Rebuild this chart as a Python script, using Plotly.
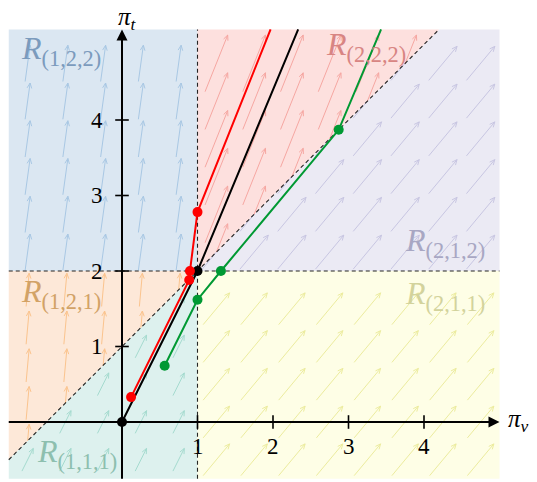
import numpy as np
import plotly.graph_objects as go

# ---- domain and region boundaries -------------------------------------
X_LO, X_HI = -1.5, 5.0
Y_LO, Y_HI = -0.75, 5.2
PV_SPLIT = 1.0        # pi_v threshold
PT_SPLIT = 2.0        # pi_t threshold
DIAG_OFFSET = 1.0     # dividing diagonal: pi_t = pi_v + 1

x_ticks = [1, 2, 3, 4]
y_ticks = [1, 2, 3, 4]

# ---- trajectories (marked vertices + slope of the final ray) -----------
black_x = [0.0, 1.0]
black_y = [0.0, 2.0]
black_ray_slope = 2.4

red_x = [0.12, 0.89, 0.90, 1.00]
red_y = [0.33, 1.88, 2.00, 2.78]
red_ray_slope = 2.5

green_x = [0.565, 1.00, 1.31, 2.87]
green_y = [0.745, 1.62, 2.00, 3.87]
green_ray_slope = 2.37

# ---- direction field per region: arrow centres and vector --------------
field_cols = [-1.25, -0.75, -0.25, 0.25, 0.75, 1.25, 1.75, 2.25, 2.75,
              3.25, 3.75, 4.25, 4.75]
rows_R122 = [2.25, 2.75, 3.25, 3.75, 4.25, 4.75]
vec_R122 = (0.066, 0.48)
rows_R121 = [-0.25, 0.25, 0.75, 1.25, 1.75]
vec_R121 = (0.04, 0.44)
rows_R111 = [-0.5, 0.0, 0.5, 1.0, 1.5]
vec_R111 = (0.15, 0.30)
rows_R211 = [-0.5, 0.0, 0.5, 1.0, 1.5]
vec_R211 = (0.35, 0.42)
rows_R212 = [2.25, 2.75, 3.25, 3.75, 4.25, 4.75]
vec_R212 = (0.375, 0.45)
rows_R222 = [2.25, 2.75, 3.25, 3.75, 4.25, 4.75]
vec_R222 = (0.30, 0.75)

# ---- styling ------------------------------------------------------------
SERIF = "'Liberation Serif', 'Times New Roman', serif"
styles = {
    "R122": dict(fill="#dbe7f2", arrow="#a9c8e4", label="#7b9bbd", name="(1,2,2)"),
    "R121": dict(fill="#fde8d8", arrow="#fbc48e", label="#d2a266", name="(1,2,1)"),
    "R111": dict(fill="#ddf1ee", arrow="#a5dbcf", label="#8dbfaf", name="(1,1,1)"),
    "R211": dict(fill="#fefee6", arrow="#ecec9e", label="#d3d39c", name="(2,1,1)"),
    "R212": dict(fill="#ebeaf4", arrow="#c8c6e2", label="#a8a7c3", name="(2,1,2)"),
    "R222": dict(fill="#fde0de", arrow="#f6a7a2", label="#d88583", name="(2,2,2)"),
}

# ---- region polygons (counter-clockwise) --------------------------------
diag_top_x = Y_HI - DIAG_OFFSET
diag_left_y = X_LO + DIAG_OFFSET
regions = {
    "R122": [(X_LO, PT_SPLIT), (PV_SPLIT, PT_SPLIT), (PV_SPLIT, Y_HI), (X_LO, Y_HI)],
    "R121": [(X_LO, diag_left_y), (PV_SPLIT, PT_SPLIT), (X_LO, PT_SPLIT)],
    "R111": [(X_LO, Y_LO), (PV_SPLIT, Y_LO), (PV_SPLIT, PT_SPLIT), (X_LO, diag_left_y)],
    "R211": [(PV_SPLIT, Y_LO), (X_HI, Y_LO), (X_HI, PT_SPLIT), (PV_SPLIT, PT_SPLIT)],
    "R212": [(PV_SPLIT, PT_SPLIT), (X_HI, PT_SPLIT), (X_HI, Y_HI), (diag_top_x, Y_HI)],
    "R222": [(PV_SPLIT, PT_SPLIT), (diag_top_x, Y_HI), (PV_SPLIT, Y_HI)],
}
fields = {
    "R122": (rows_R122, vec_R122), "R121": (rows_R121, vec_R121),
    "R111": (rows_R111, vec_R111), "R211": (rows_R211, vec_R211),
    "R212": (rows_R212, vec_R212), "R222": (rows_R222, vec_R222),
}
box = [(X_LO, Y_LO), (X_HI, Y_LO), (X_HI, Y_HI), (X_LO, Y_HI)]


def clip_segment(p0, p1, poly):
    """Cyrus-Beck clipping of segment p0->p1 against a convex CCW polygon."""
    p0, p1 = np.asarray(p0, float), np.asarray(p1, float)
    d = p1 - p0
    t0, t1 = 0.0, 1.0
    pts = [np.asarray(p, float) for p in poly]
    for i in range(len(pts)):
        a, b = pts[i], pts[(i + 1) % len(pts)]
        e = b - a
        nrm = np.array([-e[1], e[0]])
        num = nrm @ (p0 - a)
        den = nrm @ d
        if abs(den) < 1e-12:
            if num < 0:
                return None
            continue
        t = -num / den
        if den > 0:
            t0 = max(t0, t)
        else:
            t1 = min(t1, t)
        if t0 > t1:
            return None
    return t0, t1


fig = go.Figure()

# region fills
for key, poly in regions.items():
    xs = [p[0] for p in poly] + [poly[0][0]]
    ys = [p[1] for p in poly] + [poly[0][1]]
    fig.add_trace(go.Scatter(x=xs, y=ys, mode="lines", fill="toself",
                             fillcolor=styles[key]["fill"], line=dict(width=0),
                             hoverinfo="skip", showlegend=False))

# direction-field arrows, clipped to their region
HEAD_LEN, HEAD_ANG = 0.075, np.deg2rad(24)
for key, poly in regions.items():
    rows, (u, v) = fields[key]
    lx, ly = [], []
    for cx in field_cols:
        for cy in rows:
            p0 = np.array([cx - u / 2, cy - v / 2])
            p1 = np.array([cx + u / 2, cy + v / 2])
            res = clip_segment(p0, p1, poly)
            if res is None:
                continue
            t0, t1 = res
            a = p0 + t0 * (p1 - p0)
            b = p0 + t1 * (p1 - p0)
            lx += [a[0], b[0], None]
            ly += [a[1], b[1], None]
            if t1 >= 1.0 - 1e-9:
                ang = np.arctan2(v, u)
                for s in (+1, -1):
                    q = b - HEAD_LEN * np.array([np.cos(ang + s * HEAD_ANG),
                                                 np.sin(ang + s * HEAD_ANG)])
                    lx += [b[0], q[0], None]
                    ly += [b[1], q[1], None]
    fig.add_trace(go.Scatter(x=lx, y=ly, mode="lines",
                             line=dict(color=styles[key]["arrow"], width=1),
                             hoverinfo="skip", showlegend=False))

# dashed region boundaries
dash_style = dict(color="rgba(0,0,0,0.85)", width=1.1, dash="4px,3px")
fig.add_trace(go.Scatter(x=[PV_SPLIT, PV_SPLIT], y=[Y_LO, Y_HI], mode="lines",
                         line=dash_style, hoverinfo="skip", showlegend=False))
fig.add_trace(go.Scatter(x=[X_LO, X_HI], y=[PT_SPLIT, PT_SPLIT], mode="lines",
                         line=dash_style, hoverinfo="skip", showlegend=False))
fig.add_trace(go.Scatter(x=[X_LO, diag_top_x], y=[diag_left_y, Y_HI], mode="lines",
                         line=dash_style, hoverinfo="skip", showlegend=False))

# axes with arrow tips
axis_col = "black"
fig.add_trace(go.Scatter(x=[X_LO, X_HI - 0.1], y=[0, 0], mode="lines",
                         line=dict(color=axis_col, width=2), hoverinfo="skip",
                         showlegend=False))
fig.add_trace(go.Scatter(x=[0, 0], y=[Y_LO, Y_HI - 0.1], mode="lines",
                         line=dict(color=axis_col, width=2), hoverinfo="skip",
                         showlegend=False))
for (tx, ty, fx, fy) in [(X_HI, 0, X_HI - 0.3, 0), (0, Y_HI, 0, Y_HI - 0.3)]:
    fig.add_annotation(x=tx, y=ty, ax=fx, ay=fy, xref="x", yref="y",
                       axref="x", ayref="y", text="", showarrow=True,
                       arrowhead=2, arrowsize=1.1, arrowwidth=2,
                       arrowcolor=axis_col)

# tick marks
TICK = 0.09
tx, ty = [], []
for t in x_ticks:
    tx += [t, t, None]
    ty += [-TICK, TICK, None]
for t in y_ticks:
    tx += [-TICK, TICK, None]
    ty += [t, t, None]
fig.add_trace(go.Scatter(x=tx, y=ty, mode="lines",
                         line=dict(color=axis_col, width=1.6),
                         hoverinfo="skip", showlegend=False))

# tick labels
tick_font = dict(family=SERIF, size=23, color="black")
for t in x_ticks:
    fig.add_annotation(x=t, y=-0.33, xref="x", yref="y", showarrow=False,
                       text=str(t), font=tick_font)
for t in y_ticks:
    fig.add_annotation(x=-0.33, y=t, xref="x", yref="y", showarrow=False,
                       text=str(t), font=tick_font)

# trajectories
def ray_end(xs, ys, slope):
    x_last, y_last = xs[-1], ys[-1]
    far = (x_last + 10.0, y_last + 10.0 * slope)
    res = clip_segment((x_last, y_last), far, box)
    t1 = res[1]
    return x_last + t1 * 10.0, y_last + t1 * 10.0 * slope


for xs, ys, slope, col in [(black_x, black_y, black_ray_slope, "black"),
                           (red_x, red_y, red_ray_slope, "#ff0000"),
                           (green_x, green_y, green_ray_slope, "#009933")]:
    ex, ey = ray_end(xs, ys, slope)
    fig.add_trace(go.Scatter(x=list(xs) + [ex], y=list(ys) + [ey], mode="lines",
                             line=dict(color=col, width=2), hoverinfo="skip",
                             showlegend=False))
    fig.add_trace(go.Scatter(x=xs, y=ys, mode="markers",
                             marker=dict(color=col, size=10, line=dict(width=0)),
                             hoverinfo="skip", showlegend=False))

# region labels
label_pos = {
    "R122": (-0.81, 4.92), "R222": (3.23, 4.97), "R212": (4.28, 2.38),
    "R211": (4.28, 1.68), "R121": (-0.81, 1.70), "R111": (-0.60, -0.42),
}
for key, (lx_, ly_) in label_pos.items():
    st = styles[key]
    fig.add_annotation(x=lx_, y=ly_, xref="x", yref="y", showarrow=False,
                       text="<i>R</i><sub>%s</sub>" % st["name"],
                       font=dict(family=SERIF, size=32, color=st["label"]))

# axis titles
fig.add_annotation(x=0.07, y=5.34, xref="x", yref="y", showarrow=False,
                   text="<i>π</i><sub><i>t</i></sub>",
                   font=dict(family=SERIF, size=25, color="black"))
fig.add_annotation(x=5.25, y=0.02, xref="x", yref="y", showarrow=False,
                   text="<i>π</i><sub><i>v</i></sub>",
                   font=dict(family=SERIF, size=25, color="black"))

PX = 75.5
W, H = 537, 482
X0_PX, Y0_PX = 122, 422
fig.update_layout(
    width=W, height=H, margin=dict(l=0, r=0, t=0, b=0),
    paper_bgcolor="white", plot_bgcolor="white",
    xaxis=dict(range=[-X0_PX / PX, (W - X0_PX) / PX], visible=False),
    yaxis=dict(range=[-(H - Y0_PX) / PX, Y0_PX / PX], visible=False),
)

fig.write_html("out.html")
